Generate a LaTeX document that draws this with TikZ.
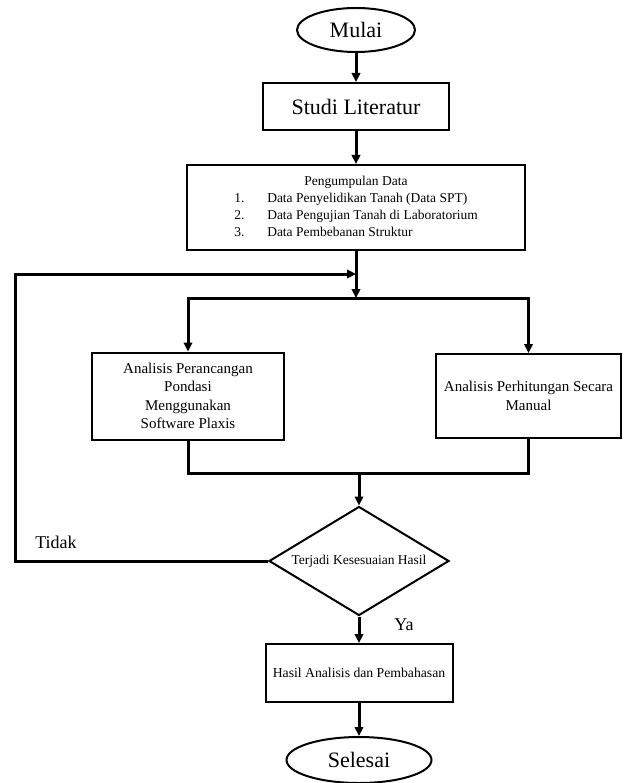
\documentclass[tikz,border=0pt]{standalone}
\usepackage{fontspec}
\setmainfont{Liberation Serif}
\usetikzlibrary{shapes.geometric,arrows.meta}
\begin{document}
\begin{tikzpicture}[x=1pt,y=-1pt,
  every node/.style={inner sep=0pt, text=black},
  box/.style={draw, rectangle, line width=2pt, align=center},
  term/.style={draw, ellipse, line width=2pt, font=\fontsize{22}{26}\selectfont},
  dec/.style={draw, diamond, aspect=1.65, line width=2pt, minimum width=180pt, minimum height=109pt, font=\fontsize{13.5}{16}\selectfont},
  conn/.style={line width=3pt, line join=miter},
  arr/.style={conn, -{Triangle[length=9pt,width=8.5pt]}},
  lbl/.style={font=\fontsize{18}{21}\selectfont}]
\useasboundingbox (0,0) rectangle (630,783);

\node[term, minimum width=118pt, minimum height=44pt] (mulai) at (356,30) {Mulai};
\node[box, minimum width=186pt, minimum height=47pt, font=\fontsize{22}{26}\selectfont] (studi) at (356,106.5) {Studi Literatur};
\node[box, minimum width=338pt, minimum height=85pt, font=\fontsize{13.5}{17}\selectfont] (data) at (356,207.5) {%
  \begin{tabular}{@{}l@{}l@{}}
  \multicolumn{2}{c}{Pengumpulan Data}\\
  \makebox[33pt][l]{1.} & Data Penyelidikan Tanah (Data SPT)\\
  \makebox[33pt][l]{2.} & Data Pengujian Tanah di Laboratorium\\
  \makebox[33pt][l]{3.} & Data Pembebanan Struktur
  \end{tabular}};

\coordinate (j1) at (356,274);
\coordinate (split) at (356,298);
\coordinate (merge) at (359,473);
\coordinate (fbc) at (15,561);

\node[box, minimum width=192pt, minimum height=87pt, font=\fontsize{15}{18.5}\selectfont] (left) at (188,396) {Analisis Perancangan\\Pondasi\\Menggunakan\\Software Plaxis};
\node[box, minimum width=185pt, minimum height=84pt, font=\fontsize{15}{19.5}\selectfont] (right) at (528.5,396) {Analisis Perhitungan Secara\\Manual};

\node[dec] (cek) at (359,561) {Terjadi Kesesuaian Hasil};
\node[box, minimum width=187pt, minimum height=58pt, font=\fontsize{13.7}{16}\selectfont] (hasil) at (359,673) {Hasil Analisis dan Pembahasan};
\node[term, minimum width=145pt, minimum height=46pt] (selesai) at (359,760) {Selesai};

\node[lbl] (tidak) at (56,542) {Tidak};
\node[lbl] (ya) at (404,625) {Ya};

\draw[arr] (mulai) -- (studi);
\draw[arr] (studi) -- (data);
\draw[arr] (data.south) -- (split);
\draw[arr] (split) -| (left.north);
\draw[arr] (split) -| (right.north);
\draw[conn] (left.south) |- (merge) -| (right.south);
\draw[arr] (merge) -- (cek.north);
\draw[arr] (cek.west) -- (fbc) |- (j1);
\draw[arr] (cek.south) -- (hasil.north);
\draw[arr] (hasil.south) -- (selesai.north);
\end{tikzpicture}
\end{document}
